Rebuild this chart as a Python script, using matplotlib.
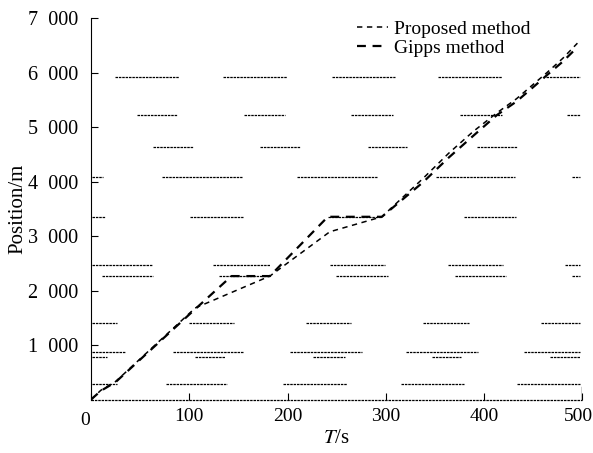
import matplotlib.pyplot as plt
import matplotlib.transforms as mtransforms

# signal red phases: position (m) -> list of (start, end) times (s)
signal_pos = [5920, 5220, 4640, 4088, 3354, 2468, 2266, 1400, 880, 780, 280, 0]
signal_red = [
    [(24, 90), (134, 199), (245, 309), (353, 418), (463, 498)],
    [(47, 87), (156, 197), (265, 307), (375, 418), (484, 498)],
    [(63, 104), (172, 213), (282, 322), (393, 434)],
    [(1, 12), (72, 154), (210, 291), (351, 431), (490, 498)],
    [(1, 14), (101, 155), (241, 296), (380, 433)],
    [(1, 62), (124, 182), (243, 299), (363, 419), (482, 498)],
    [(11, 63), (130, 182), (249, 302), (370, 422), (489, 498)],
    [(1, 26), (100, 146), (219, 265), (338, 385), (458, 498)],
    [(1, 35), (83, 155), (203, 276), (321, 394), (441, 498)],
    [(1, 16), (106, 136), (226, 258), (347, 377), (467, 498)],
    [(1, 26), (76, 138), (195, 261), (315, 380), (434, 498)],
    [(0, 500)],
]

prop_t = [0, 10, 25, 106, 182, 243, 296, 338, 364, 389, 413, 433, 453, 464, 480, 495]
prop_p = [0, 170, 330, 1680, 2266, 3079, 3354, 4060, 4520, 4920, 5260, 5520, 5830, 6000, 6260, 6540]

gipps_t = [0, 10, 25, 106, 143, 182, 241, 296, 338, 364, 389, 413, 433, 453, 464, 480, 492]
gipps_p = [0, 160, 320, 1660, 2266, 2266, 3354, 3354, 3990, 4440, 4840, 5220, 5470, 5780, 5954, 6200, 6413]

yticks = [1000, 2000, 3000, 4000, 5000, 6000, 7000]
ytick_labels = ["1\u2002000", "2\u2002000", "3\u2002000", "4\u2002000",
                "5\u2002000", "6\u2002000", "7\u2002000"]

plt.rcParams["font.family"] = ["Liberation Serif", "DejaVu Serif"]
plt.rcParams["mathtext.fontset"] = "stix"

fig = plt.figure(figsize=(5.93, 4.53), dpi=100)
ax = fig.add_axes([0.1535, 0.118, 0.8285, 0.842])

for pos, reds in zip(signal_pos, signal_red):
    for t0, t1 in reds:
        ax.plot([t0, t1], [pos, pos], color="black", lw=0.9,
                linestyle=(0, (2, 0.7)), clip_on=False)

ax.plot([500, 500], [0, 230], color="black", lw=1.0)

ax.plot(prop_t, prop_p, color="black", lw=1.1, linestyle=(0, (3.5, 3)),
        label="Proposed method")
ax.plot(gipps_t, gipps_p, color="black", lw=1.6, linestyle=(0, (4, 3)),
        label="Gipps method")

ax.set_xlim(0, 500)
ax.set_ylim(0, 7000)
ax.set_xticks([0, 100, 200, 300, 400, 500])
ax.set_xticklabels(["", "100", "200", "300", "400", "500"])
ax.set_yticks(yticks)
ax.set_yticklabels(ytick_labels)
ax.tick_params(direction="in", length=5, width=0.8, labelsize=14)
ax.tick_params(axis="y", pad=9, labelsize=14.5)
ax.tick_params(axis="x", pad=6)
ax.text(-6, -380, "0", fontsize=14, ha="center", va="center", clip_on=False)

# keep the last x label inside the picture
last = ax.get_xticklabels()[-1]
last.set_transform(last.get_transform()
                   + mtransforms.ScaledTranslation(-4 / 100, 0, fig.dpi_scale_trans))

for s in ["top", "right", "bottom"]:
    ax.spines[s].set_visible(False)
ax.spines["left"].set_linewidth(0.8)

ax.set_xlabel("$T$/s", fontsize=15, labelpad=3)
ax.set_ylabel("Position/m", fontsize=15, labelpad=1)

ax.legend(loc="upper right", bbox_to_anchor=(0.93, 1.04), frameon=False,
          fontsize=14, handlelength=1.6, handletextpad=0.3, labelspacing=0.05)

plt.savefig("out.png", dpi=100)
plt.close()
